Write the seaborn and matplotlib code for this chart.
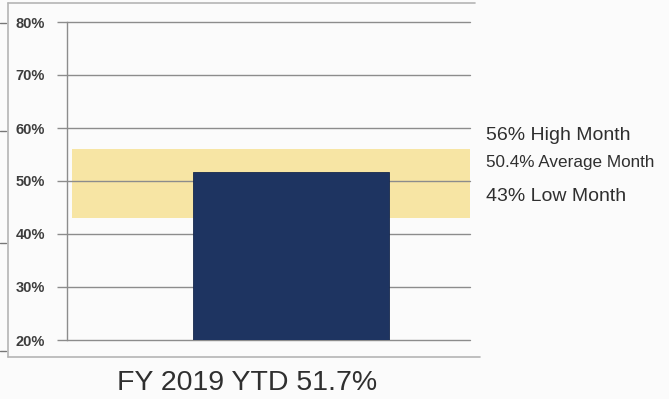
import matplotlib
matplotlib.use("Agg")
import matplotlib.pyplot as plt
from matplotlib.lines import Line2D
import seaborn as sns

# Year-to-date result and monthly range
categories = ["FY 2019 YTD"]
ytd_values = [51.7]
high_month = 56
avg_month = 50.4
low_month = 43
y_ticks = [20, 30, 40, 50, 60, 70, 80]
y_tick_labels = ["20%", "30%", "40%", "50%", "60%", "70%", "80%"]

sns.set_theme(style="white")
plt.rcParams["font.family"] = ["Liberation Sans", "DejaVu Sans"]

W, H = 669, 399
fig = plt.figure(figsize=(W / 100, H / 100), dpi=100)
fig.patch.set_facecolor("#fbfbfb")

def px(x0, y0, x1, y1):
    return [x0 / W, 1 - y1 / H, (x1 - x0) / W, (y1 - y0) / H]

ax = fig.add_axes(px(67, 22, 470, 340))
ax.set_facecolor("#fbfbfb")

grid_color = "#8c8c8c"

# monthly range band
ax.axhspan(low_month, high_month, xmin=0.012, xmax=1.0,
           color="#f7e5a4", zorder=0, lw=0)

# gridlines
for t in y_ticks:
    ax.axhline(t, color=grid_color, lw=1.0, zorder=1, clip_on=False)

sns.barplot(x=categories, y=ytd_values, ax=ax, color="#1e3461",
            saturation=1, width=0.8, zorder=2, edgecolor="#16284d", linewidth=0.6)

ax.set_ylim(20, 80)
ax.set_xlim(-0.915, 0.731)
ax.set_yticks(y_ticks)
ax.set_yticklabels(y_tick_labels, fontsize=10.5, fontweight="bold", color="#3d3d3d")
ax.set_xticks([])
ax.set_xlabel("")
ax.set_ylabel("")
ax.tick_params(axis="y", length=7, width=1.0, color=grid_color, pad=9, left=True)
for side in ["top", "right", "bottom"]:
    ax.spines[side].set_visible(False)
ax.spines["left"].set_color(grid_color)
ax.spines["left"].set_linewidth(1.0)

# range annotations
txt_color = "#2f2f2f"
fig.text(486 / W, 1 - 136 / H, f"{high_month}% High Month", fontsize=14,
         color=txt_color, va="center", ha="left")
fig.text(486 / W, 1 - 163 / H, f"{avg_month}% Average Month", fontsize=12.3,
         color=txt_color, va="center", ha="left")
fig.text(486 / W, 1 - 197 / H, f"{low_month}% Low Month", fontsize=14,
         color=txt_color, va="center", ha="left")

# category caption with its value
fig.text(117 / W, 1 - 383 / H, f"{categories[0]} {ytd_values[0]}%", fontsize=20.5,
         color=txt_color, va="center", ha="left")

# outer frame (open on the right)
frame_color = "#b5b5b5"
fig.add_artist(Line2D([8 / W, 8 / W], [1 - 3 / H, 1 - 357 / H], color=frame_color, lw=1.2))
fig.add_artist(Line2D([8 / W, 475 / W], [1 - 3 / H, 1 - 3 / H], color=frame_color, lw=1.2))
fig.add_artist(Line2D([8 / W, 480 / W], [1 - 357 / H, 1 - 357 / H], color=frame_color, lw=1.2))
for yy in [23, 131, 243, 351]:
    fig.add_artist(Line2D([0, 6 / W], [1 - yy / H, 1 - yy / H], color="#777777", lw=1.0))

fig.savefig("out.png", dpi=100, facecolor=fig.get_facecolor())
